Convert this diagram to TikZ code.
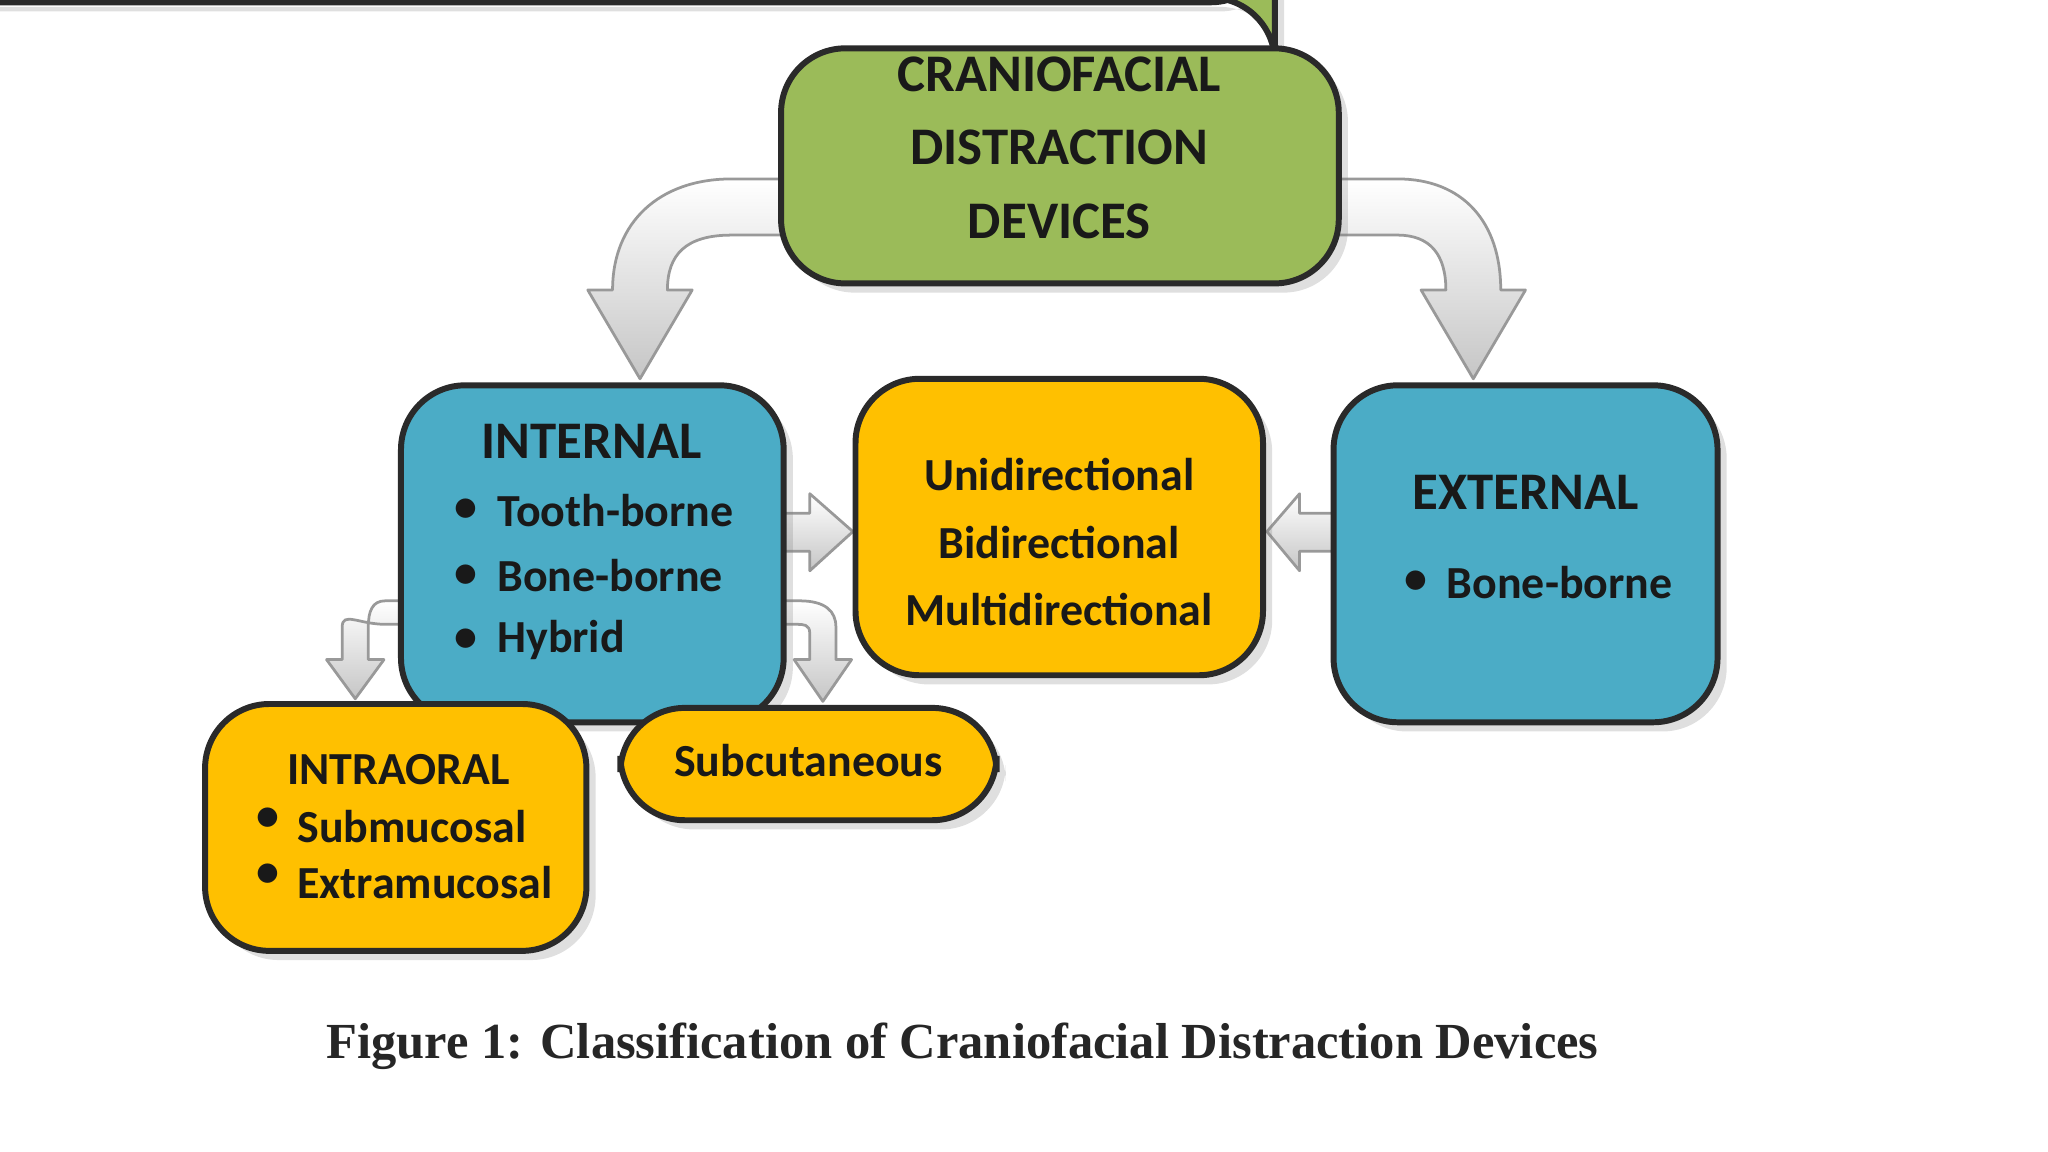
\documentclass[tikz,border=0pt]{standalone}
\usepackage{fontspec}
\setmainfont{Carlito}
\newfontfamily\capfont{Liberation Serif}
\usetikzlibrary{shadows}
\definecolor{cgreen}{HTML}{9BBB59}
\definecolor{cblue}{HTML}{4BACC6}
\definecolor{cyel}{HTML}{FFC000}
\definecolor{cline}{HTML}{2A2A2A}
\tikzset{
  boxa/.style={draw=cline,line width=1.3pt,rounded corners=14pt,drop shadow={opacity=0.25,shadow xshift=2pt,shadow yshift=-2pt}},
  blk/.style={draw=gray!80,line width=0.6pt,top color=white,bottom color=gray!45,line join=round},
  txt/.style={font=\bfseries\fontsize{10}{12}\selectfont,text=black!90,inner sep=0pt},
  big/.style={font=\bfseries\fontsize{11.5}{13}\selectfont,text=black!90,inner sep=0pt},
}
\begin{document}
\begin{tikzpicture}[x=0.01cm,y=-0.01cm]
\useasboundingbox (0,0) rectangle (1568,882);
% block arrows
\draw[blk] (600,137) -- (560,137) .. controls (505,137) and (469,170) .. (469,222) -- (450,222) -- (490,290) -- (530,222) -- (511,222) .. controls (511,195) and (525,180) .. (560,180) -- (600,180) -- cycle;
\draw[blk] (1023,137) -- (1070,137) .. controls (1120,137) and (1149,170) .. (1149,222) -- (1168,222) -- (1128,290) -- (1088,222) -- (1107,222) .. controls (1107,195) and (1095,180) .. (1070,180) -- (1023,180) -- cycle;
\draw[blk] (600,393) -- (620,393) -- (620,378) -- (653,407) -- (620,437) -- (620,422) -- (600,422) -- cycle;
\draw[blk] (1021,393) -- (995,393) -- (995,378) -- (970,407) -- (995,437) -- (995,422) -- (1021,422) -- cycle;
\draw[blk] (308,460) -- (295,460) .. controls (285,460) and (282,468) .. (282,480) -- (282,505) -- (294,505) -- (272,535) -- (250,505) -- (262,505) -- (262,480) .. controls (262,468) and (275,478) .. (295,478) -- (308,478) -- cycle;
\draw[blk] (599,460) -- (612,460) .. controls (632,460) and (640,468) .. (640,480) -- (640,505) -- (652,505) -- (630,537) -- (608,505) -- (620,505) -- (620,485) .. controls (620,478) and (615,478) .. (610,478) -- (599,478) -- cycle;
% boxes
\node[boxa,fill=cgreen,minimum width=427\pgflinewidth,inner sep=0pt] (top) at (0,0) {};
\path[boxa,fill=cgreen] (598,37) rectangle (1025,217);
\node[big,align=center] (toptxt) at (811,113) {CRANIOFACIAL\\[3pt]DISTRACTION\\[3pt]DEVICES};
\path[boxa,fill=cblue] (307,295) rectangle (600,553);
\path[boxa,fill=cyel] (655,290) rectangle (967,517);
\path[boxa,fill=cblue] (1021,295) rectangle (1315,553);
\path[boxa,fill=cyel] (157,539) rectangle (449,728);
\path[boxa,fill=cyel] (475,542) rectangle (763,628);
% texts
\node[big] (int) at (453,338) {INTERNAL};
\foreach \yy/\t/\n in {391/Tooth-borne/ia,441/Bone-borne/ib,490/Hybrid/ic}{
  \node[txt] (\n b) at (357,\yy) {\textbullet};
  \node[txt,anchor=west] (\n) at (380,\yy) {\t};
}
\node[txt] (u1) at (811,363) {Unidirectional};
\node[txt] (u2) at (811,415) {Bidirectional};
\node[txt] (u3) at (811,467) {Multidirectional};
\node[big] (ext) at (1168,377) {EXTERNAL};
\node[txt] (eb) at (1084,446) {\textbullet};
\node[txt,anchor=west] (e1) at (1107,446) {Bone-borne};
\node[txt] (io) at (305,589) {INTRAORAL};
\node[txt] (s1b) at (205,627) {\textbullet};
\node[txt,anchor=west] (s1) at (227,633) {Submucosal};
\node[txt] (s2b) at (205,670) {\textbullet};
\node[txt,anchor=west] (s2) at (227,676) {Extramucosal};
\node[txt] (sub) at (619,582) {Subcutaneous};
\node[inner sep=0pt,font=\capfont\bfseries\fontsize{11}{13}\selectfont,text=black!85] (cap) at (737,801) {Figure 1: Classification of Craniofacial Distraction Devices};
\end{tikzpicture}
\end{document}
